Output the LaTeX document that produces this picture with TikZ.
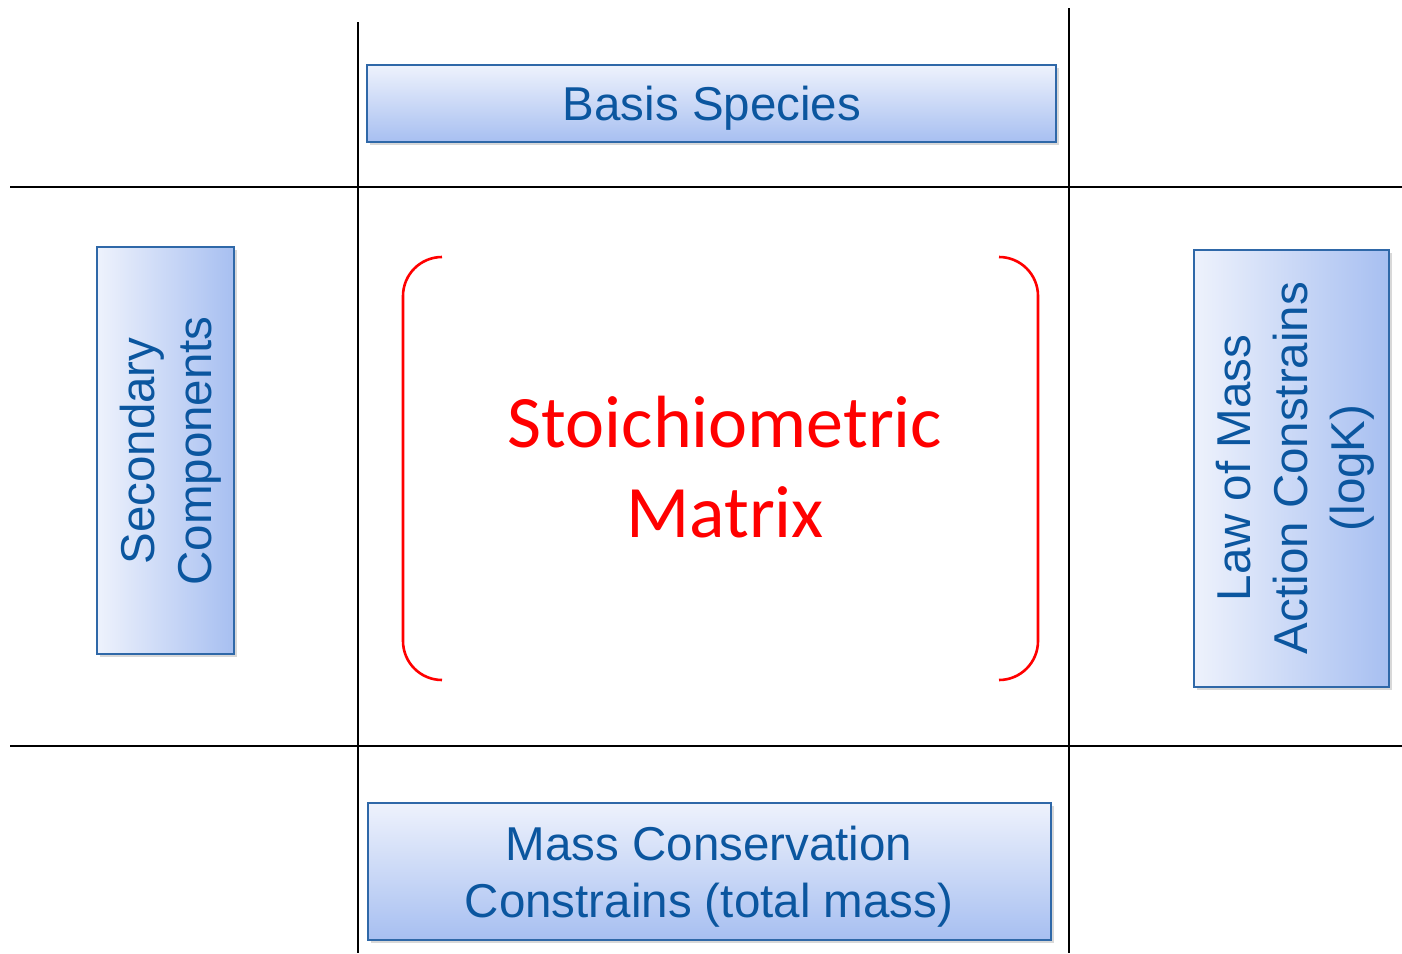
\documentclass[tikz,border=0pt]{standalone}
\usepackage{fontspec}
\setmainfont{Liberation Sans}
\newfontfamily\carlitofont{Carlito}
\usetikzlibrary{shadows}
\definecolor{boxtext}{HTML}{0B569F}
\definecolor{boxedge}{HTML}{2F68A8}
\definecolor{boxlight}{HTML}{EEF2FC}
\definecolor{boxdark}{HTML}{A7BFF1}
\definecolor{matred}{HTML}{FF0000}
\begin{document}
\begin{tikzpicture}[x=1pt,y=-1pt,
  gridline/.style={draw=black,line width=2pt},
  vbox/.style={draw=boxedge,line width=1.8pt,top color=boxlight,bottom color=boxdark,
    drop shadow={shadow xshift=2.5pt,shadow yshift=-2.5pt,opacity=0.3},inner sep=0pt},
  hbox/.style={draw=boxedge,line width=1.8pt,left color=boxlight,right color=boxdark,
    drop shadow={shadow xshift=2.5pt,shadow yshift=-2.5pt,opacity=0.3},inner sep=0pt},
  boxlabel/.style={text=boxtext,font=\fontsize{47.5}{57}\selectfont,align=center,inner sep=0pt},
  bracket/.style={draw=matred,line width=2.6pt,rounded corners=39pt},
]
\useasboundingbox (0,0) rectangle (1402,953);
\fill[white] (0,0) rectangle (1402,953);
% grid
\coordinate (hl1a) at (10,187); \coordinate (hl1b) at (1402,187);
\coordinate (hl2a) at (10,746); \coordinate (hl2b) at (1402,746);
\coordinate (vl1a) at (358,22); \coordinate (vl1b) at (358,953);
\coordinate (vl2a) at (1069,8); \coordinate (vl2b) at (1069,953);
\draw[gridline] (hl1a) -- (hl1b);
\draw[gridline] (hl2a) -- (hl2b);
\draw[gridline] (vl1a) -- (vl1b);
\draw[gridline] (vl2a) -- (vl2b);
% boxes
\node[vbox,minimum width=689pt,minimum height=77pt] (basis) at (711.5,103.5) {};
\node[boxlabel] (basist) at (712,108) {Basis Species};
\node[vbox,minimum width=683pt,minimum height=137pt] (mass) at (709.5,871.5) {};
\node[boxlabel] (masst) at (709,876.5) {Mass Conservation\\Constrains (total mass)};
\node[hbox,minimum width=137pt,minimum height=407pt] (sec) at (165.5,450.5) {};
\node[boxlabel,rotate=90] (sect) at (171,451) {Secondary\\Components};
\node[hbox,minimum width=195pt,minimum height=437pt] (law) at (1291.5,468.5) {};
\node[boxlabel,rotate=90] (lawt) at (1295,468) {Law of Mass\\Action Constrains\\(logK)};
% matrix
\coordinate (lb1) at (442,257); \coordinate (lb2) at (403,257);
\coordinate (lb3) at (403,680); \coordinate (lb4) at (442,680);
\coordinate (rb1) at (999,257); \coordinate (rb2) at (1038,257);
\coordinate (rb3) at (1038,680); \coordinate (rb4) at (999,680);
\draw[bracket] (lb1) -- (lb2) -- (lb3) -- (lb4);
\draw[bracket] (rb1) -- (rb2) -- (rb3) -- (rb4);
\node[text=matred,font=\carlitofont\fontsize{74}{90}\selectfont,align=center,inner sep=0pt] (stoich) at (725,467) {Stoichiometric\\Matrix};
\end{tikzpicture}
\end{document}
